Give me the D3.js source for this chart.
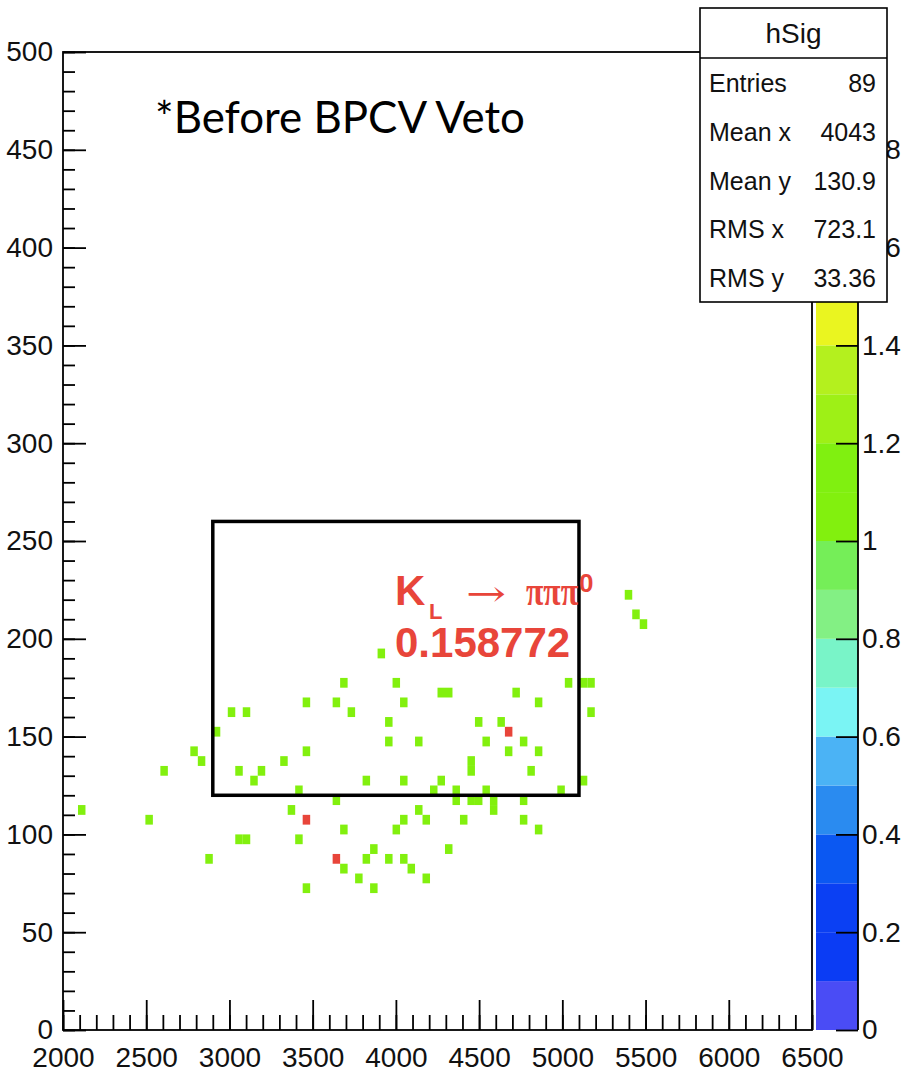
<!DOCTYPE html>
<html><head><meta charset="utf-8">
<script src="https://cdn.jsdelivr.net/npm/d3@7"></script>
<style>body{margin:0;background:#fff;} svg{display:block;}</style>
</head><body>
<svg id="chart" width="908" height="1074"></svg>
<script>
// ---- data (bin centres of filled cells, TH2 "hSig", 100 x-bins 2000-6500, 100 y-bins 0-500) ----
const binWidthX = 45, binWidthY = 5;
const cellX = [
 3012.5,3102.5,2922.5,2787.5,2832.5,2607.5,3057.5,3192.5,3147.5,2112.5,2517.5,3057.5,3102.5,2877.5,
 3687.5,4002.5,4272.5,4317.5,3462.5,3642.5,3732.5,4047.5,3957.5,3957.5,4137.5,3462.5,3327.5,3822.5,
 4047.5,4272.5,3417.5,4227.5,4362.5,4362.5,3642.5,3372.5,3462.5,4137.5,4047.5,4182.5,4407.5,3687.5,
 4002.5,3417.5,3867.5,4317.5,3642.5,3822.5,3957.5,4047.5,3687.5,4092.5,3777.5,4182.5,3462.5,3867.5,
 5037.5,5127.5,5172.5,4722.5,4857.5,5172.5,4497.5,4632.5,4677.5,4542.5,4767.5,4677.5,4857.5,4452.5,
 4452.5,4812.5,4542.5,4992.5,5127.5,4452.5,4497.5,4587.5,4587.5,4767.5,4767.5,4857.5,
 5397.5,5442.5,5487.5,3912.5];
const cellY = [
 162.5,162.5,152.5,142.5,137.5,132.5,132.5,132.5,127.5,112.5,107.5,97.5,97.5,87.5,
 177.5,177.5,172.5,172.5,167.5,167.5,162.5,167.5,157.5,147.5,147.5,142.5,137.5,127.5,
 127.5,127.5,122.5,122.5,122.5,117.5,117.5,112.5,107.5,112.5,107.5,107.5,107.5,102.5,
 102.5,97.5,92.5,92.5,87.5,87.5,87.5,87.5,82.5,82.5,77.5,77.5,72.5,72.5,
 177.5,177.5,177.5,172.5,167.5,162.5,157.5,157.5,152.5,147.5,147.5,142.5,142.5,137.5,
 132.5,132.5,122.5,122.5,127.5,117.5,117.5,117.5,112.5,117.5,107.5,102.5,
 222.5,212.5,207.5,192.5];
const cellCount = [
 1,1,1,1,1,1,1,1,1,1,1,1,1,1,
 1,1,1,1,1,1,1,1,1,1,1,1,1,1,
 1,1,1,1,1,1,1,1,2,1,1,1,1,1,
 1,1,1,1,2,1,1,1,1,1,1,1,1,1,
 1,1,1,1,1,1,1,1,2,1,1,1,1,1,
 1,1,1,1,1,1,1,1,1,1,1,1,
 1,1,1,1];
const xTickValues = [2000,2500,3000,3500,4000,4500,5000,5500,6000,6500];
const yTickValues = [0,50,100,150,200,250,300,350,400,450,500];
const zTickValues = [0,0.2,0.4,0.6,0.8,1,1.2,1.4,1.6,1.8,2];
const zTickLabels = ["0","0.2","0.4","0.6","0.8","1","1.2","1.4","1.6","1.8","2"];
const zRange = [0,2];
const paletteColors = ["#4a4cf5","#0b3cf4","#0b40f3","#0b58f2","#2a8bf0","#4bb3f5","#7af4f4","#79f4c8",
  "#83f084","#75ee58","#82f00e","#80f010","#9ef016","#b4f01e","#eaf520","#f5d520","#f5b020","#f59020","#f06a2a","#e8453a"];
const statsLabels = ["Entries","Mean x","Mean y","RMS x","RMS y"];
const statsValues = ["89","4043","130.9","723.1","33.36"];
const histName = "hSig";
const signalBox = {x0:2900, x1:5100, y0:120, y1:260};
const noteText = "*Before BPCV Veto";
const decayValue = "0.158772";

// ---- drawing ----
const svg = d3.select("#chart");
const M = {left:63, right:812, top:52, bottom:1030};
const x = d3.scaleLinear().domain([2000,6500]).range([M.left,M.right]);
const y = d3.scaleLinear().domain([0,500]).range([M.bottom,M.top]);
const z = d3.scaleLinear().domain(zRange).range([M.bottom,M.top]);
const nCol = paletteColors.length;
const color = v => paletteColors[Math.min(nCol-1, Math.floor((v-zRange[0])/(zRange[1]-zRange[0])*nCol + 1e-9))];
const AX = "'Liberation Sans', Arial, Helvetica, sans-serif";

svg.append("rect").attr("width",908).attr("height",1074).attr("fill","#fff");

// cells
svg.append("g").selectAll("rect").data(d3.range(cellX.length)).join("rect")
  .attr("x", i => x(cellX[i]-binWidthX/2))
  .attr("width", i => x(cellX[i]+binWidthX/2) - x(cellX[i]-binWidthX/2))
  .attr("y", i => y(cellY[i]+binWidthY/2))
  .attr("height", i => y(cellY[i]-binWidthY/2) - y(cellY[i]+binWidthY/2))
  .attr("fill", i => color(cellCount[i]));

function styleAxis(g){
  g.select(".domain").remove();
  g.selectAll("line").attr("stroke","#000").attr("stroke-width",1.8);
  g.selectAll("text").attr("fill","#111").style("font-family",AX).style("font-size","28px");
}
// x axis
svg.append("g").attr("transform",`translate(0,${M.bottom})`)
  .call(d3.axisBottom(x).tickValues(d3.range(2000,6501,100)).tickSize(-15).tickFormat(""))
  .call(styleAxis);
svg.append("g").attr("transform",`translate(0,${M.bottom})`)
  .call(d3.axisBottom(x).tickValues(xTickValues).tickSize(-30).tickPadding(17).tickFormat(d3.format("d")))
  .call(styleAxis);
// y axis
svg.append("g").attr("transform",`translate(${M.left},0)`)
  .call(d3.axisLeft(y).tickValues(d3.range(0,501,10)).tickSize(-12).tickFormat(""))
  .call(styleAxis);
svg.append("g").attr("transform",`translate(${M.left},0)`)
  .call(d3.axisLeft(y).tickValues(yTickValues).tickSize(-23).tickPadding(10).tickFormat(d3.format("d")))
  .call(styleAxis);

// frame
svg.append("rect").attr("x",M.left).attr("y",M.top).attr("width",M.right-M.left).attr("height",M.bottom-M.top)
  .attr("fill","none").attr("stroke","#000").attr("stroke-width",1.8);

// colour bar
const cbX0 = 816, cbX1 = 858;
const step = (zRange[1]-zRange[0])/nCol;
svg.append("g").selectAll("rect").data(paletteColors).join("rect")
  .attr("x",cbX0).attr("width",cbX1-cbX0)
  .attr("y",(c,i)=>z(zRange[0]+(i+1)*step)).attr("height",(c,i)=>z(zRange[0]+i*step)-z(zRange[0]+(i+1)*step))
  .attr("fill",c=>c);
svg.append("g").attr("transform",`translate(${cbX1},0)`)
  .call(d3.axisRight(z).tickValues(zTickValues).tickSize(-22).tickPadding(4).tickFormat((d,i)=>zTickLabels[i]))
  .call(g=>{
    g.select(".domain").remove();
    g.selectAll("line").attr("stroke","#000").attr("stroke-width",1.8);
    g.selectAll("text").attr("fill","#111").style("font-family",AX).style("font-size","28px");
  });
svg.append("line").attr("x1",cbX1).attr("x2",cbX1).attr("y1",M.top).attr("y2",M.bottom)
  .attr("stroke","#000").attr("stroke-width",1.8);

// signal box
svg.append("rect").attr("x",x(signalBox.x0)).attr("y",y(signalBox.y1))
  .attr("width",x(signalBox.x1)-x(signalBox.x0)).attr("height",y(signalBox.y0)-y(signalBox.y1))
  .attr("fill","none").attr("stroke","#000").attr("stroke-width",3.5);

// note text
const note = svg.append("text").attr("x",155).attr("y",133).attr("fill","#000")
  .style("font-family","Lato, 'Open Sans', sans-serif").style("font-size","40px").text(noteText);
{
  const w = note.node().getComputedTextLength();
  note.style("font-size",(40*370/w)+"px");
}

// decay label
const RED = "#e8453a";
const lab = svg.append("g").attr("fill",RED);
lab.append("text").attr("x",395).attr("y",605).style("font-family",AX).style("font-weight","bold").style("font-size","42px").text("K");
lab.append("text").attr("x",429).attr("y",619).style("font-family",AX).style("font-weight","bold").style("font-size","22px").text("L");
lab.append("text").attr("x",466).attr("y",606).attr("textLength",40).attr("lengthAdjust","spacingAndGlyphs")
  .style("font-family","'DejaVu Serif', serif").style("font-size","36px").text("\u2192");
lab.append("text").attr("x",526).attr("y",605).attr("textLength",52).attr("lengthAdjust","spacingAndGlyphs")
  .style("font-family","'Liberation Serif', serif").style("font-weight","bold").style("font-size","42px").text("\u03C0\u03C0\u03C0");
lab.append("text").attr("x",579).attr("y",592).style("font-family",AX).style("font-weight","bold").style("font-size","26px").text("0");
lab.append("text").attr("x",395).attr("y",657).style("font-family",AX).style("font-weight","bold").style("font-size","42px").text(decayValue);

// stats box
const sb = {x0:700, x1:887, y0:8, y1:302, header:58};
svg.append("rect").attr("x",sb.x0).attr("y",sb.y0).attr("width",sb.x1-sb.x0).attr("height",sb.y1-sb.y0)
  .attr("fill","#fff").attr("stroke","#000").attr("stroke-width",1.6);
svg.append("line").attr("x1",sb.x0).attr("x2",sb.x1).attr("y1",sb.header).attr("y2",sb.header)
  .attr("stroke","#000").attr("stroke-width",1.6);
svg.append("text").attr("x",(sb.x0+sb.x1)/2).attr("y",43).attr("text-anchor","middle").attr("fill","#111")
  .style("font-family",AX).style("font-size","28px").text(histName);
const rowY = d3.scaleLinear().domain([0,statsLabels.length-1]).range([92,287]);
svg.append("g").selectAll("text").data(statsLabels).join("text")
  .attr("x",709).attr("y",(d,i)=>rowY(i)).attr("fill","#111")
  .style("font-family",AX).style("font-size","25px").text(d=>d);
svg.append("g").selectAll("text").data(statsValues).join("text")
  .attr("x",876).attr("y",(d,i)=>rowY(i)).attr("text-anchor","end").attr("fill","#111")
  .style("font-family",AX).style("font-size","25px").text(d=>d);
</script>
</body></html>
